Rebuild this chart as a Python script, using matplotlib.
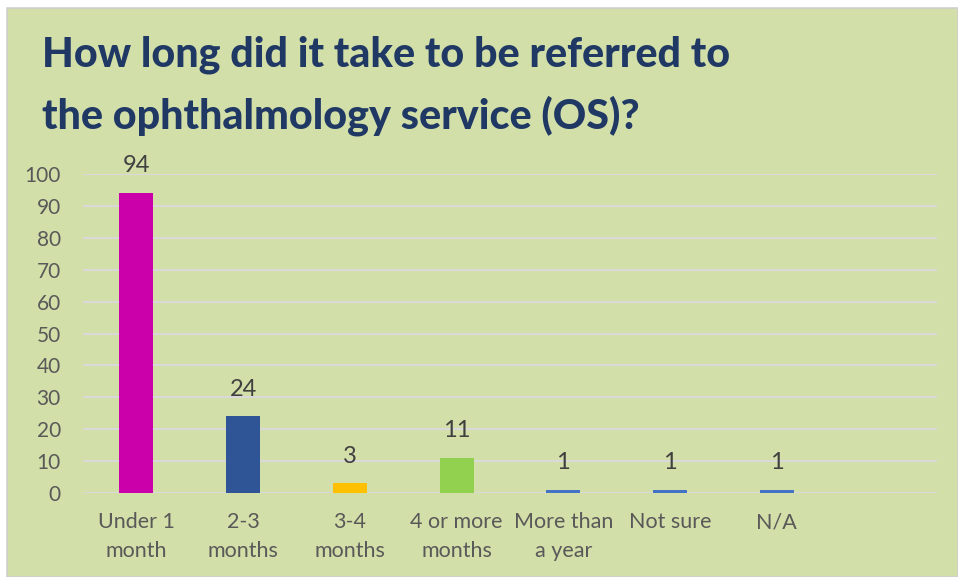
import matplotlib.pyplot as plt
from matplotlib.patches import Rectangle

categories = ["Under 1\nmonth", "2-3\nmonths", "3-4\nmonths", "4 or more\nmonths",
              "More than\na year", "Not sure", "N/A"]
counts = [94, 24, 3, 11, 1, 1, 1]
bar_colors = ["#cc00aa", "#2f5597", "#ffc000", "#92d050", "#4472c4", "#4472c4", "#4472c4"]
yticks = list(range(0, 101, 10))

title = "How long did it take to be referred to\nthe ophthalmology service (OS)?"

panel_green = "#d3dfa8"

fig = plt.figure(figsize=(9.58, 5.77), dpi=100, facecolor="white")

# green panel with a thin grey frame, kept behind the axes
fig.patches.append(Rectangle((7 / 958, 0), 1 - 7 / 958, 1 - 8 / 577,
                             transform=fig.transFigure, facecolor=panel_green,
                             edgecolor="#cfcfcf", linewidth=1.2, zorder=-5))

ax = fig.add_axes([83 / 958, 1 - 493 / 577, (937 - 83) / 958, (493 - 174) / 577])
ax.set_facecolor("none")

x = list(range(len(categories)))
bars = ax.bar(x, counts, width=0.32, color=bar_colors, zorder=3)

for rect, v in zip(bars, counts):
    ax.annotate(str(v), (rect.get_x() + rect.get_width() / 2, v),
                xytext=(0, 12), textcoords="offset points", ha="center", va="bottom",
                fontsize=17, color="#404040", family="Lato")

ax.set_xlim(-0.5, 7.5)
ax.set_ylim(0, 100)
ax.set_yticks(yticks)
ax.set_xticks(x)
ax.set_xticklabels(categories, fontsize=15.5, color="#595959", family="Lato",
                   linespacing=1.55)
ax.tick_params(axis="y", labelsize=15, labelcolor="#595959", length=0, pad=16)
ax.tick_params(axis="x", length=0, pad=14)
for lab in ax.get_yticklabels():
    lab.set_family("Lato")

ax.grid(axis="y", color="#d9d9d9", linewidth=1.5, zorder=0)
for s in ax.spines.values():
    s.set_visible(False)

fig.text(42 / 958, 1 - 36 / 577, title, ha="left", va="top", fontsize=29.7,
         fontweight="black", color="#1f3864", family="Lato", linespacing=1.62)

fig.savefig("out.png", dpi=100, facecolor=fig.get_facecolor())
